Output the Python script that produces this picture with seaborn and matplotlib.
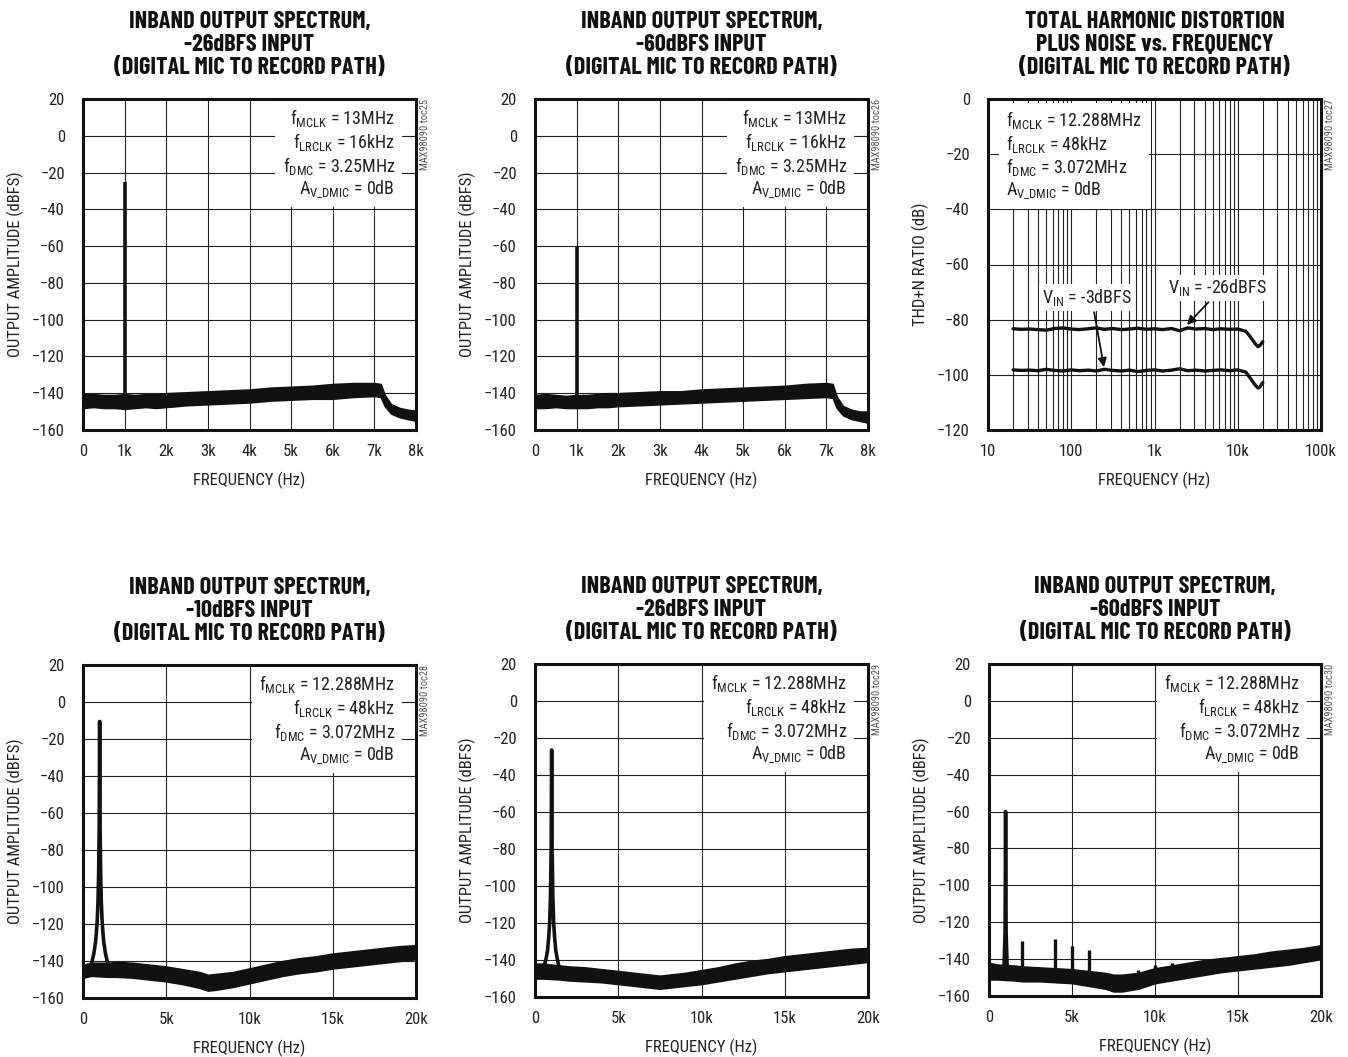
import matplotlib
matplotlib.use("Agg")
import matplotlib.pyplot as plt
import numpy as np
import seaborn as sns

# ---------------- data ----------------
# top row spectra, fLRCLK = 16kHz, band 0..8k (noise floor envelope, dBFS)
fs16_freq = [0, 250, 500, 750, 1000, 1250, 1500, 1750, 2000, 2500, 3000, 3500, 4000,
             4500, 5000, 5500, 6000, 6500, 7000, 7150, 7250, 7400, 7600, 7800, 8000]
toc25_hi = [-140.5, -140.5, -141, -141, -140.5, -141, -140.5, -140.5, -140, -139.5, -139, -138.5, -138,
            -137, -136.5, -136, -135, -134.5, -134.5, -135, -141, -146, -148, -149, -149.5]
toc25_lo = [-148, -147.5, -148, -148, -148.5, -148, -147.5, -148, -147.5, -146.5, -146, -145.5, -145,
            -144, -143.5, -143, -143, -142, -141.5, -142, -147, -151, -153, -154, -155]
toc26_hi = [-141, -140.5, -141, -141.5, -141, -141, -140.5, -140, -140, -139.5, -139, -139, -138,
            -137.5, -137, -136.5, -136, -135, -134.5, -135, -142, -147, -149, -150, -150]
toc26_lo = [-148, -148, -147.5, -148, -148, -148, -147.5, -147.5, -147, -146.5, -146, -145.5, -145,
            -144.5, -144, -143.5, -143, -142.5, -142, -142.5, -148, -152, -154, -155, -156]
toc25_tone = ([1000], [-25])
toc26_tone = ([1000], [-60])

# bottom row spectra, fLRCLK = 48kHz, band 0..20k
fs48_freq = [0, 500, 1500, 2000, 3000, 4000, 5000, 6000, 7000, 7500, 8000, 9000, 10000,
             11000, 12000, 13000, 14000, 15000, 16000, 17000, 18000, 19000, 20000]
toc28_hi = [-142, -141, -141, -140.5, -141, -142, -143, -144.5, -146, -147.5, -147, -146, -144,
            -142, -140, -138.5, -137.5, -136, -135, -134, -133, -132, -131.5]
toc28_lo = [-149, -148, -148.5, -148.5, -149, -150, -151, -152.5, -154.5, -156, -155.5, -154, -152,
            -150, -148, -146.5, -145.5, -144, -143, -142, -141, -140, -139]
toc29_hi = [-142, -142, -143, -143.5, -144, -145, -146, -147, -148, -148.5, -148, -147, -145.5,
            -144, -142, -140.5, -139.5, -138, -137, -136, -135, -134, -133.5]
toc29_lo = [-150, -150, -150.5, -151, -151.5, -152, -153, -154, -155, -155.5, -155, -154, -153,
            -151.5, -150, -148.5, -147, -146, -145, -144, -143, -142, -141]
toc30_hi = [-142, -143, -143.5, -144, -144.5, -145, -145.5, -146.5, -147.5, -148.5, -148.5, -147.5, -145,
            -143.5, -142, -140.5, -139.5, -138.5, -137.5, -136, -135, -134, -132.5]
toc30_lo = [-151, -151, -151.5, -152, -152, -152.5, -153, -154.5, -156, -157.5, -157.5, -156, -153,
            -151.5, -150, -148.5, -147, -146, -145, -144, -143, -141.5, -140]

# 1kHz tone with its skirt
toc28_pk_freq = [0, 250, 450, 550, 650, 750, 800, 850, 900, 940, 970, 1000, 1030, 1060, 1100,
                 1150, 1200, 1250, 1350, 1450, 1550, 1700]
toc28_pk_db = [-146, -145, -143, -140, -136, -130, -125, -119, -108, -92, -70, -10.5, -70, -92, -108,
               -119, -125, -130, -136, -140, -143, -145]
toc29_pk_freq = [0, 300, 550, 650, 750, 820, 880, 930, 970, 1000, 1030, 1070, 1120, 1180, 1250, 1350, 1450, 1700]
toc29_pk_db = [-146, -145, -143, -140, -135, -128, -120, -105, -80, -26.5, -80, -105, -120, -128, -135, -140, -144, -147]
toc30_pk_freq = [900, 970, 1000, 1030, 1100]
toc30_pk_db = [-146, -125, -60, -125, -146]
toc30_spur_freq = [2000, 4000, 5000, 6000, 9000, 10000, 11000]
toc30_spur_db = [-130, -129, -133, -135, -146, -143, -142]

# THD+N vs frequency
thd_freq = [20, 25, 32, 40, 50, 63, 80, 100, 125, 160, 200, 250, 315, 400, 500, 630, 800, 1000,
            1250, 1600, 2000, 2500, 3150, 4000, 5000, 6300, 8000, 10000, 12500, 14000, 16000,
            17500, 18500, 20000]
thd_26dbfs = [-83.3, -83.5, -83.4, -83.6, -83.8, -83.2, -83.0, -83.4, -83.6, -83.3, -83.0, -83.5,
              -83.2, -83.6, -83.4, -83.1, -83.5, -83.3, -83.6, -83.2, -84.0, -83.0, -83.4, -83.2,
              -83.6, -83.3, -83.5, -83.4, -84.2, -86.0, -88.5, -89.8, -89.3, -88.0]
thd_3dbfs = [-98.2, -98.4, -98.3, -98.5, -98.0, -98.4, -98.6, -98.2, -98.5, -98.3, -98.6, -98.0,
             -98.4, -98.6, -98.3, -98.8, -98.4, -98.2, -98.6, -98.3, -97.8, -98.5, -98.3, -98.6,
             -98.4, -98.2, -98.5, -98.2, -99.0, -101.0, -103.5, -104.8, -104.3, -102.8]

fs16_ticks = [0, 1000, 2000, 3000, 4000, 5000, 6000, 7000, 8000]
fs16_labels = ["0", "1k", "2k", "3k", "4k", "5k", "6k", "7k", "8k"]
fs48_ticks = [0, 5000, 10000, 15000, 20000]
fs48_labels = ["0", "5k", "10k", "15k", "20k"]
amp_ticks = list(range(-160, 21, 20))
thd_xticks = [10, 100, 1000, 10000, 100000]
thd_xlabels = ["10", "100", "1k", "10k", "100k"]
thd_yticks = list(range(-120, 1, 20))

cond_16k = ("f$_{MCLK}$ = 13MHz\nf$_{LRCLK}$ = 16kHz\n"
            "f$_{DMC}$ = 3.25MHz\nA$_{V\\_DMIC}$ = 0dB")
cond_48k = ("f$_{MCLK}$ = 12.288MHz\nf$_{LRCLK}$ = 48kHz\n"
            "f$_{DMC}$ = 3.072MHz\nA$_{V\\_DMIC}$ = 0dB")

# ---------------- style ----------------
sns.set_style("white")
BODY = ["Roboto Condensed", "DejaVu Sans"]
TITLE = ["Barlow Condensed", "Roboto Condensed", "DejaVu Sans"]
plt.rcParams["font.family"] = BODY
plt.rcParams["mathtext.fontset"] = "custom"
plt.rcParams["mathtext.rm"] = "Roboto Condensed"
plt.rcParams["mathtext.default"] = "regular"
plt.rcParams["text.color"] = "#222"
plt.rcParams["axes.labelcolor"] = "#222"

W, H = 1348, 1057
fig = plt.figure(figsize=(W / 100, H / 100), dpi=100)


def add_panel(l, t, r, b):
    return fig.add_axes([l / W, 1 - b / H, (r - l) / W, (b - t) / H])


def style(ax, title, code):
    ax.set_title(title, family=TITLE, fontweight="bold", fontsize=17.5,
                 linespacing=1.06, pad=18, color="#111")
    for s in ax.spines.values():
        s.set_linewidth(2.2)
        s.set_color("#111")
    ax.set_axisbelow(True)
    ax.grid(True, color="#222", lw=0.8)
    ax.tick_params(length=0, labelsize=12, colors="#222")
    ax.tick_params(axis="y", pad=13)
    ax.tick_params(axis="x", pad=10)
    ax.text(1.027, 1.0, code, transform=ax.transAxes, rotation=90, ha="center",
            va="top", fontsize=7.5, color="#555")


def spectrum(ax, freq, hi, lo, xmax, xticks, xlabels, title, code, cond):
    ax.fill_between(freq, lo, hi, color="#111", lw=1.2, edgecolor="#111", zorder=2)
    ax.set_xlim(0, xmax)
    ax.set_ylim(-160, 20)
    ax.set_xticks(xticks, xlabels)
    ax.set_yticks(amp_ticks)
    ax.set_xlabel("FREQUENCY (Hz)", fontsize=12, labelpad=9)
    ax.set_ylabel("OUTPUT AMPLITUDE (dBFS)", fontsize=12, labelpad=6)
    style(ax, title, code)
    ax.text(0.937, 0.975, cond, transform=ax.transAxes, ha="right", va="top",
            fontsize=13, linespacing=1.1, zorder=4,
            bbox=dict(facecolor="white", edgecolor="none", boxstyle="square,pad=0.4"))


def tone(ax, freq, hi, lo, tone_f, tone_db):
    base = np.interp(tone_f, freq, lo)
    ax.vlines(tone_f, base, tone_db, color="#111", lw=2.6, zorder=3)


# panel 1
ax1 = add_panel(83, 99, 416, 430)
spectrum(ax1, fs16_freq, toc25_hi, toc25_lo, 8000, fs16_ticks, fs16_labels,
         "INBAND OUTPUT SPECTRUM,\n-26dBFS INPUT\n(DIGITAL MIC TO RECORD PATH)",
         "MAX98090 toc25", cond_16k)
tone(ax1, fs16_freq, toc25_hi, toc25_lo, *toc25_tone)

# panel 2
ax2 = add_panel(535, 99, 868, 430)
spectrum(ax2, fs16_freq, toc26_hi, toc26_lo, 8000, fs16_ticks, fs16_labels,
         "INBAND OUTPUT SPECTRUM,\n-60dBFS INPUT\n(DIGITAL MIC TO RECORD PATH)",
         "MAX98090 toc26", cond_16k)
tone(ax2, fs16_freq, toc26_hi, toc26_lo, *toc26_tone)

# panel 3: THD+N
ax3 = add_panel(988, 99, 1321, 430)
ax3.set_xscale("log")
sns.lineplot(x=thd_freq, y=thd_26dbfs, ax=ax3, color="#111", lw=2.4, sort=False, zorder=3)
sns.lineplot(x=thd_freq, y=thd_3dbfs, ax=ax3, color="#111", lw=2.4, sort=False, zorder=3)
ax3.set_xlim(10, 100000)
ax3.set_ylim(-120, 0)
ax3.set_xticks(thd_xticks, thd_xlabels)
ax3.set_yticks(thd_yticks)
ax3.set_xlabel("FREQUENCY (Hz)", fontsize=12, labelpad=9)
ax3.set_ylabel("THD+N RATIO (dB)", fontsize=12, labelpad=6)
style(ax3, "TOTAL HARMONIC DISTORTION\nPLUS NOISE vs. FREQUENCY\n(DIGITAL MIC TO RECORD PATH)",
      "MAX98090 toc27")
ax3.grid(True, which="minor", axis="x", color="#222", lw=0.8)
ax3.tick_params(which="minor", length=0)
ax3.text(0.054, 0.97, cond_48k, transform=ax3.transAxes, ha="left", va="top",
         fontsize=13, linespacing=1.1, zorder=4,
         bbox=dict(facecolor="white", edgecolor="none", boxstyle="square,pad=0.4"))
arrow = dict(arrowstyle="-|>", color="#111", lw=1.3, mutation_scale=13, shrinkA=1, shrinkB=0)
ax3.annotate("V$_{IN}$ = -3dBFS", xy=(247, -97.2), xytext=(155, -72), ha="center", va="center",
             fontsize=13, zorder=5, arrowprops=dict(arrow, relpos=(0.57, 0.0)),
             bbox=dict(facecolor="white", edgecolor="none", boxstyle="square,pad=0.15"))
ax3.annotate("V$_{IN}$ = -26dBFS", xy=(2455, -81.9), xytext=(5620, -68.5), ha="center", va="center",
             fontsize=13, zorder=5, arrowprops=dict(arrow, relpos=(0.45, 0.0)),
             bbox=dict(facecolor="white", edgecolor="none", boxstyle="square,pad=0.15"))

# panel 4
ax4 = add_panel(83, 665, 416, 998)
spectrum(ax4, fs48_freq, toc28_hi, toc28_lo, 20000, fs48_ticks, fs48_labels,
         "INBAND OUTPUT SPECTRUM,\n-10dBFS INPUT\n(DIGITAL MIC TO RECORD PATH)",
         "MAX98090 toc28", cond_48k)
sns.lineplot(x=toc28_pk_freq, y=toc28_pk_db, ax=ax4, color="#111", lw=2.6, sort=False, zorder=3)

# panel 5
ax5 = add_panel(535, 664, 868, 997)
spectrum(ax5, fs48_freq, toc29_hi, toc29_lo, 20000, fs48_ticks, fs48_labels,
         "INBAND OUTPUT SPECTRUM,\n-26dBFS INPUT\n(DIGITAL MIC TO RECORD PATH)",
         "MAX98090 toc29", cond_48k)
sns.lineplot(x=toc29_pk_freq, y=toc29_pk_db, ax=ax5, color="#111", lw=2.6, sort=False, zorder=3)

# panel 6
ax6 = add_panel(989, 664, 1321, 996)
spectrum(ax6, fs48_freq, toc30_hi, toc30_lo, 20000, fs48_ticks, fs48_labels,
         "INBAND OUTPUT SPECTRUM,\n-60dBFS INPUT\n(DIGITAL MIC TO RECORD PATH)",
         "MAX98090 toc30", cond_48k)
sns.lineplot(x=toc30_pk_freq, y=toc30_pk_db, ax=ax6, color="#111", lw=2.6, sort=False, zorder=3)
spur_base = np.interp(toc30_spur_freq, fs48_freq, toc30_lo)
ax6.vlines(toc30_spur_freq, spur_base, toc30_spur_db, color="#111", lw=2.4, zorder=3)

for ax in (ax1, ax2, ax3, ax4, ax5, ax6):
    leg = ax.get_legend()
    if leg is not None:
        leg.remove()

fig.savefig("out.png", dpi=100)
